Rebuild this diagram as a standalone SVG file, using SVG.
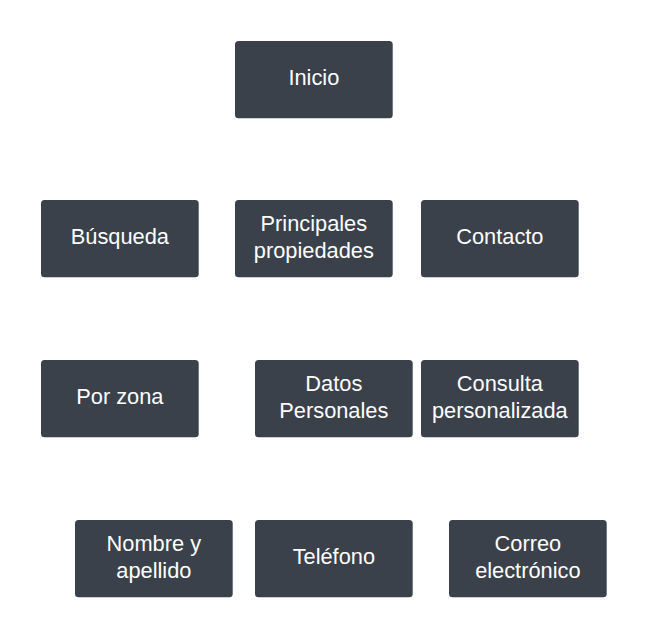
<svg xmlns="http://www.w3.org/2000/svg" width="648" height="639" viewBox="0 0 648 639">
<style>
.box{fill:#3a414a;}
.t{fill:#ffffff;font-family:"Liberation Sans",Arial,sans-serif;font-size:21.8px;text-anchor:middle;}
</style>
<rect width="648" height="639" fill="#ffffff"/>
<g id="connectors"></g>
<g id="inicio"><rect class="box" x="235" y="41" width="157.7" height="77.3" rx="3.5"/><text class="t" x="313.85" y="84.5">Inicio</text></g>
<g id="busqueda"><rect class="box" x="41" y="200" width="157.7" height="77.3" rx="3.5"/><text class="t" x="119.85" y="243.5">Búsqueda</text></g>
<g id="principales"><rect class="box" x="235" y="200" width="157.7" height="77.3" rx="3.5"/><text class="t" x="313.85" y="231">Principales</text><text class="t" x="313.85" y="257.7">propiedades</text></g>
<g id="contacto"><rect class="box" x="421" y="200" width="157.7" height="77.3" rx="3.5"/><text class="t" x="499.85" y="243.5">Contacto</text></g>
<g id="porzona"><rect class="box" x="41" y="360" width="157.7" height="77.3" rx="3.5"/><text class="t" x="119.85" y="403.5">Por zona</text></g>
<g id="datos"><rect class="box" x="255" y="360" width="157.7" height="77.3" rx="3.5"/><text class="t" x="333.85" y="391">Datos</text><text class="t" x="333.85" y="417.7">Personales</text></g>
<g id="consulta"><rect class="box" x="421" y="360" width="157.7" height="77.3" rx="3.5"/><text class="t" x="499.85" y="391">Consulta</text><text class="t" x="499.85" y="417.7">personalizada</text></g>
<g id="nombre"><rect class="box" x="75" y="520" width="157.7" height="77.3" rx="3.5"/><text class="t" x="153.85" y="551">Nombre y</text><text class="t" x="153.85" y="577.7">apellido</text></g>
<g id="telefono"><rect class="box" x="255" y="520" width="157.7" height="77.3" rx="3.5"/><text class="t" x="333.85" y="563.5">Teléfono</text></g>
<g id="correo"><rect class="box" x="449" y="520" width="157.7" height="77.3" rx="3.5"/><text class="t" x="527.85" y="551">Correo</text><text class="t" x="527.85" y="577.7">electrónico</text></g>
</svg>
